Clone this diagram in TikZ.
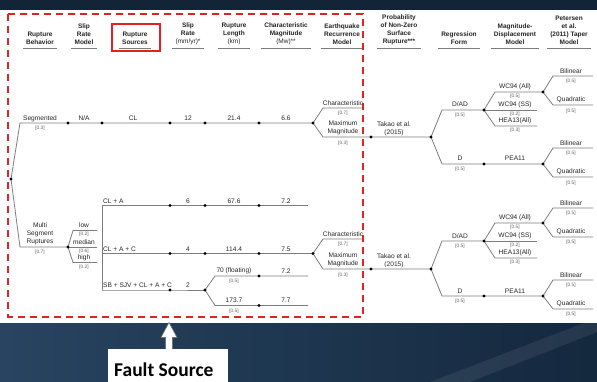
\documentclass[tikz,border=0pt]{standalone}
\usepackage{fontspec}
\setmainfont{Liberation Sans}
\newfontfamily\calibrifont{Carlito}
\usetikzlibrary{calc}

\definecolor{navy}{RGB}{20,36,56}
\definecolor{bgA}{RGB}{40,68,96}
\definecolor{bgB}{RGB}{60,90,120}
\definecolor{bgC}{RGB}{20,40,62}
\definecolor{dashred}{RGB}{226,34,34}
\definecolor{branch}{RGB}{125,125,125}
\definecolor{probgray}{RGB}{95,95,95}

\pgfdeclarelayer{back}
\pgfdeclarelayer{lines}
\pgfsetlayers{back,lines,main}

\tikzset{
  br/.style={draw=branch, line width=0.8pt},
  dotnode/.style={circle, fill=black, inner sep=0pt, minimum size=3.4pt},
  lbl/.style={inner sep=0pt, font=\fontsize{6.6}{7.8}\selectfont, text=black!85, align=center},
  prob/.style={inner sep=0pt, font=\fontsize{4.8}{5.5}\selectfont, text=probgray},
  hdr/.style={inner sep=0pt, font=\bfseries\fontsize{6.5}{8}\selectfont, text=black!85, align=center},
  uline/.style={draw=branch, line width=0.9pt},
}

\begin{document}
\begin{tikzpicture}[x=1pt, y=-1pt]
\useasboundingbox (0,0) rectangle (597,382);

% ---------- backdrop ----------
\begin{pgfonlayer}{back}
  \fill[navy] (0,0) rectangle (597,382);
  \shade[left color=bgA, middle color=bgB, right color=bgC] (0,322) rectangle (597,382);
  \fill[white, opacity=0.07] (430,382) -- (597,318) -- (597,332) -- (470,382) -- cycle;
  \fill[white] (0,10) rectangle (597,322.5);
\end{pgfonlayer}

% ---------- column headers ----------
\coordinate (ul) at (0,48);
\node[hdr] (hBeh) at (40,38) {Rupture\\Behavior};
\node[hdr] (hSRM) at (84,34) {Slip\\Rate\\Model};
\node[hdr] (hSrc) at (135,38) {Rupture\\Sources};
\node[hdr] (hSR)  at (188,34) {Slip\\Rate\\{\mdseries(mm/yr)*}};
\node[hdr] (hLen) at (234,34) {Rupture\\Length\\{\mdseries(km)}};
\node[hdr] (hMag) at (286,34) {Characteristic\\Magnitude\\{\mdseries(Mw)**}};
\node[hdr] (hRec) at (342,34) {Earthquake\\Recurrence\\Model};
\node[hdr] (hPrb) at (399,30) {Probability\\of Non-Zero\\Surface\\Rupture***};
\node[hdr] (hReg) at (459,38) {Regression\\Form};
\node[hdr] (hMD)  at (515,34) {Magnitude-\\Displacement\\Model};
\node[hdr] (hPet) at (569,30) {Petersen\\et al.\\(2011) Taper\\Model};
\foreach \h in {hBeh,hSRM,hSrc,hSR,hLen,hMag,hRec,hPrb,hReg,hMD,hPet}
  \draw[uline] ($(\h.west|-ul)+(-3,0)$) -- ($(\h.east|-ul)+(3,0)$);
\draw[dashred, line width=1.8pt] ($(hSrc.center)+(-23,-14)$) rectangle ($(hSrc.center)+(25,13)$);

% ---------- tree: coordinates and dots ----------
\node[dotnode] (root) at (11,179) {};
\coordinate (segL) at (20,123);
\coordinate (mulL) at (20,247);

% segmented branch
\node[dotnode] (sA) at (68,123) {};
\node[dotnode] (sB) at (102,123) {};
\node[dotnode] (sC) at (170,123) {};
\node[dotnode] (sD) at (205,123) {};
\node[dotnode] (sE) at (259,123) {};
\node[dotnode] (sF) at (313,123) {};
\coordinate (sChL) at (323,108); \coordinate (sChR) at (363,108);
\coordinate (sMmL) at (323,137);
\node[dotnode] (sG) at (371,137) {};
\node[dotnode] (sH) at (431,137) {};
\coordinate (sDADL) at (442,110);
\node[dotnode] (sI) at (484,110) {};
\coordinate (sDL) at (442,164);
\node[dotnode] (sJ) at (484,164) {};
\coordinate (sWAL) at (495,92);
\node[dotnode] (sK) at (543,92) {};
\coordinate (sWSR) at (537,110);
\coordinate (sHEL) at (495,126); \coordinate (sHER) at (537,126);
\coordinate (sB1L) at (553,76); \coordinate (sB1R) at (593,76);
\coordinate (sQ1L) at (553,105); \coordinate (sQ1R) at (593,105);
\node[dotnode] (sL) at (543,164) {};
\coordinate (sB2L) at (553,148); \coordinate (sB2R) at (593,148);
\coordinate (sQ2L) at (553,177); \coordinate (sQ2R) at (593,177);

% multi-segment branch
\node[dotnode] (mA) at (68,247) {};
\coordinate (mLoL) at (73,230.5); \coordinate (mLoR) at (97,230.5);
\coordinate (mMeR) at (97,247);
\coordinate (mHiL) at (73,262.5); \coordinate (mHiR) at (97,262.5);
\coordinate (barT) at (102,205.5);
\coordinate (barM) at (102,253.5);
\coordinate (barB) at (102,290);
% CL + A
\node[dotnode] (aA) at (170,205.5) {};
\node[dotnode] (aB) at (205,205.5) {};
\node[dotnode] (aC) at (259,205.5) {};
\coordinate (aEnd) at (308,205.5);
% CL + A + C
\node[dotnode] (cA) at (170,253.5) {};
\node[dotnode] (cB) at (205,253.5) {};
\node[dotnode] (cC) at (259,253.5) {};
\node[dotnode] (cD) at (313,253.5) {};
\coordinate (cChL) at (323,239); \coordinate (cChR) at (363,239);
\coordinate (cMmL) at (323,269);
\node[dotnode] (cE) at (371,269) {};
\node[dotnode] (cF) at (431,269) {};
\coordinate (cDADL) at (442,241);
\node[dotnode] (cG) at (484,241) {};
\coordinate (cDL) at (442,296);
\node[dotnode] (cH) at (484,296) {};
\coordinate (cWAL) at (495,223);
\node[dotnode] (cI) at (543,223) {};
\coordinate (cWSR) at (537,241);
\coordinate (cHEL) at (495,258); \coordinate (cHER) at (537,258);
\coordinate (cB1L) at (553,208); \coordinate (cB1R) at (593,208);
\coordinate (cQ1L) at (553,237); \coordinate (cQ1R) at (593,237);
\node[dotnode] (cJ) at (543,296) {};
\coordinate (cB2L) at (553,280); \coordinate (cB2R) at (593,280);
\coordinate (cQ2L) at (553,309); \coordinate (cQ2R) at (593,309);
% SB + SJV + CL + A + C
\node[dotnode] (bA) at (170,290) {};
\node[dotnode] (bB) at (205,290) {};
\coordinate (bUL) at (215,276);
\node[dotnode] (bC) at (259,276) {};
\coordinate (bUEnd) at (308,276);
\coordinate (bDL) at (215,305.5);
\node[dotnode] (bD) at (259,305.5) {};
\coordinate (bDEnd) at (308,305.5);

% ---------- tree: connectors ----------
\begin{pgfonlayer}{lines}
  \draw[br] (root.center) -- (segL) -- (sA.center) -- (sB.center) -- (sC.center)
            -- (sD.center) -- (sE.center) -- (sF.center);
  \draw[br] (sF.center) -- (sChL) -- (sChR);
  \draw[br] (sF.center) -- (sMmL) -- (sG.center) -- (sH.center);
  \draw[br] (sH.center) -- (sDADL) -- (sI.center);
  \draw[br] (sH.center) -- (sDL) -- (sJ.center) -- (sL.center);
  \draw[br] (sI.center) -- (sWAL) -- (sK.center);
  \draw[br] (sI.center) -- (sWSR);
  \draw[br] (sI.center) -- (sHEL) -- (sHER);
  \draw[br] (sK.center) -- (sB1L) -- (sB1R);
  \draw[br] (sK.center) -- (sQ1L) -- (sQ1R);
  \draw[br] (sL.center) -- (sB2L) -- (sB2R);
  \draw[br] (sL.center) -- (sQ2L) -- (sQ2R);

  \draw[br] (root.center) -- (mulL) -- (mA.center);
  \draw[br] (mA.center) -- (mLoL) -- (mLoR);
  \draw[br] (mA.center) -- (mMeR);
  \draw[br] (mA.center) -- (mHiL) -- (mHiR);
  \draw[br] (barT) -- (barB);
  \draw[br] (barT) -- (aA.center) -- (aB.center) -- (aC.center) -- (aEnd);
  \draw[br] (barM) -- (cA.center) -- (cB.center) -- (cC.center) -- (cD.center);
  \draw[br] (cD.center) -- (cChL) -- (cChR);
  \draw[br] (cD.center) -- (cMmL) -- (cE.center) -- (cF.center);
  \draw[br] (cF.center) -- (cDADL) -- (cG.center);
  \draw[br] (cF.center) -- (cDL) -- (cH.center) -- (cJ.center);
  \draw[br] (cG.center) -- (cWAL) -- (cI.center);
  \draw[br] (cG.center) -- (cWSR);
  \draw[br] (cG.center) -- (cHEL) -- (cHER);
  \draw[br] (cI.center) -- (cB1L) -- (cB1R);
  \draw[br] (cI.center) -- (cQ1L) -- (cQ1R);
  \draw[br] (cJ.center) -- (cB2L) -- (cB2R);
  \draw[br] (cJ.center) -- (cQ2L) -- (cQ2R);
  \draw[br] (barB) -- (bA.center) -- (bB.center);
  \draw[br] (bB.center) -- (bUL) -- (bC.center) -- (bUEnd);
  \draw[br] (bB.center) -- (bDL) -- (bD.center) -- (bDEnd);
\end{pgfonlayer}

% ---------- branch labels: segmented ----------
\node[lbl] (tSeg) at (40,118.5) {Segmented};
\node[prob] (pSeg) at (40,128.5) {[0.3]};
\node[lbl] (tNA) at (84,118.5) {N/A};
\node[lbl] (tCL) at (133,118.5) {CL};
\node[lbl] (t12) at (188,118.5) {12};
\node[lbl] (t214) at (234,118.5) {21.4};
\node[lbl] (t66) at (286,118.5) {6.6};
\node[lbl] (tCh1) at (343,103) {Characteristic};
\node[prob] (pCh1) at (343,113) {[0.7]};
\node[lbl] (tMm1) at (343,128) {Maximum\\Magnitude};
\node[prob] (pMm1) at (343,143) {[0.3]};
\node[lbl] (tTk1) at (394,128.5) {Takao et al.\\(2015)};
\node[lbl] (tDAD1) at (460,104.5) {D/AD};
\node[prob] (pDAD1) at (460,115) {[0.5]};
\node[lbl] (tD1) at (460,158.5) {D};
\node[prob] (pD1) at (460,169) {[0.5]};
\node[lbl] (tPEA1) at (515,158.5) {PEA11};
\node[lbl] (tWA1) at (515,87) {WC94 (All)};
\node[prob] (pWA1) at (515,96.5) {[0.5]};
\node[lbl] (tWS1) at (515,105) {WC94 (SS)};
\node[prob] (pWS1) at (515,114.5) {[0.2]};
\node[lbl] (tHE1) at (515,121) {HEA13(All)};
\node[prob] (pHE1) at (515,130.5) {[0.3]};
\node[lbl] (tBi1) at (571,71) {Bilinear};
\node[prob] (pBi1) at (571,81.5) {[0.5]};
\node[lbl] (tQu1) at (571,100) {Quadratic};
\node[prob] (pQu1) at (571,111) {[0.5]};
\node[lbl] (tBi2) at (571,143) {Bilinear};
\node[prob] (pBi2) at (571,153) {[0.5]};
\node[lbl] (tQu2) at (571,172) {Quadratic};
\node[prob] (pQu2) at (571,183) {[0.5]};

% ---------- branch labels: multi-segment ----------
\node[lbl] (tMul) at (40,233.5) {Multi\\Segment\\Ruptures};
\node[prob] (pMul) at (40,252.5) {[0.7]};
\node[lbl] (tLo) at (84,225.5) {low};
\node[prob] (pLo) at (84,234.5) {[0.2]};
\node[lbl] (tMe) at (84,242.5) {median};
\node[prob] (pMe) at (84,251.5) {[0.6]};
\node[lbl] (tHi) at (84,258) {high};
\node[prob] (pHi) at (84,267) {[0.2]};
\node[lbl, anchor=west] (tCLA) at (103,201.5) {CL + A};
\node[lbl, anchor=west] (tCLAC) at (103,249.5) {CL + A + C};
\node[lbl, anchor=west] (tSB) at (103,285.5) {SB + SJV + CL + A + C};
\node[lbl] (t6) at (188,201.5) {6};
\node[lbl] (t4) at (188,249.5) {4};
\node[lbl] (t2) at (188,285.5) {2};
\node[lbl] (t676) at (234,201) {67.6};
\node[lbl] (t72a) at (286,201) {7.2};
\node[lbl] (t1144) at (234,249) {114.4};
\node[lbl] (t75) at (286,249) {7.5};
\node[lbl] (t70) at (234,271) {70 (floating)};
\node[prob] (p70) at (234,281) {[0.5]};
\node[lbl] (t72b) at (286,271) {7.2};
\node[lbl] (t1737) at (234,300.5) {173.7};
\node[prob] (p1737) at (234,311) {[0.5]};
\node[lbl] (t77) at (286,300.5) {7.7};
\node[lbl] (tCh2) at (343,234) {Characteristic};
\node[prob] (pCh2) at (343,244) {[0.7]};
\node[lbl] (tMm2) at (343,260) {Maximum\\Magnitude};
\node[prob] (pMm2) at (343,275) {[0.3]};
\node[lbl] (tTk2) at (394,260.5) {Takao et al.\\(2015)};
\node[lbl] (tDAD2) at (460,236) {D/AD};
\node[prob] (pDAD2) at (460,246) {[0.5]};
\node[lbl] (tD2) at (460,291) {D};
\node[prob] (pD2) at (460,301) {[0.5]};
\node[lbl] (tPEA2) at (515,291) {PEA11};
\node[lbl] (tWA2) at (515,218) {WC94 (All)};
\node[prob] (pWA2) at (515,227.5) {[0.5]};
\node[lbl] (tWS2) at (515,236) {WC94 (SS)};
\node[prob] (pWS2) at (515,245.5) {[0.2]};
\node[lbl] (tHE2) at (515,253) {HEA13(All)};
\node[prob] (pHE2) at (515,262.5) {[0.3]};
\node[lbl] (tBi3) at (571,203) {Bilinear};
\node[prob] (pBi3) at (571,213) {[0.5]};
\node[lbl] (tQu3) at (571,232) {Quadratic};
\node[prob] (pQu3) at (571,242.5) {[0.5]};
\node[lbl] (tBi4) at (571,275) {Bilinear};
\node[prob] (pBi4) at (571,285) {[0.5]};
\node[lbl] (tQu4) at (571,304) {Quadratic};
\node[prob] (pQu4) at (571,314.5) {[0.5]};

% ---------- fault source frame and callout ----------
\draw[dashred, line width=2pt, dash pattern=on 7pt off 5pt] (8,14) rectangle (363,316.5);
\node[fill=white, inner sep=0pt, minimum width=120pt, minimum height=34pt, anchor=north west] (fsBox) at (108,349) {};
\node[inner sep=0pt, anchor=base west, font=\calibrifont\bfseries\fontsize{19.5}{22}\selectfont, text=black] (fsText) at (114,376) {Fault Source};
% hollow arrow rising from the callout box
\draw[fill=white, draw=black!55, line width=0.6pt]
  ($(fsBox.north west)+(57.5,0)$) -- ++(0,-11.5) -- ++(-4.5,0) -- ++(8,-15) -- ++(8,15) -- ++(-4.5,0) -- ++(0,11.5);
\end{tikzpicture}
\end{document}
